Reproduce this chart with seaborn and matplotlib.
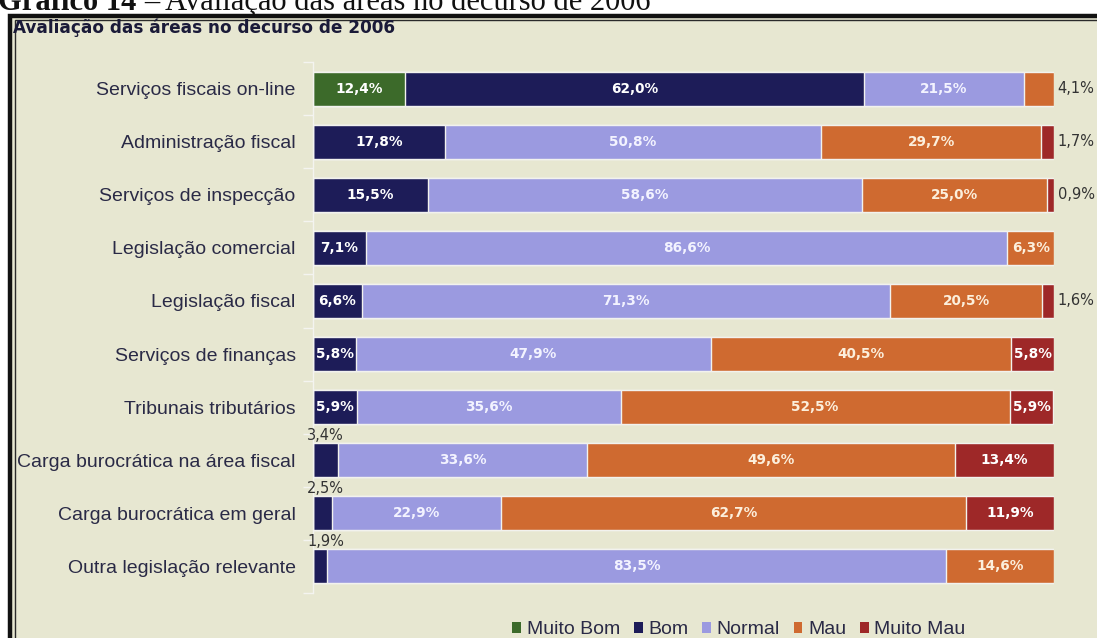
import matplotlib
matplotlib.use("Agg")
import matplotlib.pyplot as plt
from matplotlib.patches import Rectangle, Patch
import numpy as np
import pandas as pd
import seaborn as sns

# ---- data -------------------------------------------------------------
categories = [
    "Serviços fiscais on-line",
    "Administração fiscal",
    "Serviços de inspecção",
    "Legislação comercial",
    "Legislação fiscal",
    "Serviços de finanças",
    "Tribunais tributários",
    "Carga burocrática na área fiscal",
    "Carga burocrática em geral",
    "Outra legislação relevante",
]
series_names = ["Muito Bom", "Bom", "Normal", "Mau", "Muito Mau"]
muito_bom = [12.4, 0, 0, 0, 0, 0, 0, 0, 0, 0]
bom = [62.0, 17.8, 15.5, 7.1, 6.6, 5.8, 5.9, 3.4, 2.5, 1.9]
normal = [21.5, 50.8, 58.6, 86.6, 71.3, 47.9, 35.6, 33.6, 22.9, 83.5]
mau = [4.1, 29.7, 25.0, 6.3, 20.5, 40.5, 52.5, 49.6, 62.7, 14.6]
muito_mau = [0, 1.7, 0.9, 0, 1.6, 5.8, 5.9, 13.4, 11.9, 0]

series = [muito_bom, bom, normal, mau, muito_mau]
colors = ["#3c6a2a", "#1d1c58", "#9b9ae0", "#cf6a30", "#9e2828"]
label_colors = ["#ffffff", "#ffffff", "#f3f3ff", "#fcefdc", "#ffffff"]
bg = "#e7e7d1"

# ---- figure -----------------------------------------------------------
sns.set_style("white")
plt.rcParams["font.family"] = ["Liberation Sans", "DejaVu Sans"]

W, H = 1097, 638
fig = plt.figure(figsize=(W / 100, H / 100), dpi=100, facecolor="white")


def px(x, y):
    """Pixel position (from top-left) to figure fraction."""
    return x / W, 1 - y / H


# framed box (extends past the right and bottom edges)
box_top = 1 - 15.5 / H
fig.patches.append(Rectangle((10 / W, -1), 2, box_top + 1,
                             transform=fig.transFigure, facecolor=bg,
                             edgecolor="none", zorder=-2))
fig.patches.append(Rectangle((10 / W, -1), 2, box_top + 1,
                             transform=fig.transFigure, facecolor="none",
                             edgecolor="#111111", linewidth=3.2, zorder=-1))
fig.patches.append(Rectangle((14.5 / W, -1), 2, 1 - 19.5 / H + 1,
                             transform=fig.transFigure, facecolor="none",
                             edgecolor="#2a2a2a", linewidth=1.0, zorder=-1))

# document caption above the box
fx, fy = px(-2, 10)
t1 = fig.text(fx, fy, "Gráfico 14 ", family="Liberation Serif", fontsize=22,
              fontweight="bold", va="baseline", ha="left", color="#111111")
fig.canvas.draw()
bb = t1.get_window_extent()
fig.text(bb.x1 / W, fy, "– Avaliação das áreas no decurso de 2006",
         family="Liberation Serif", fontsize=22, va="baseline", ha="left",
         color="#111111")

# chart title inside the box
tx, ty = px(13, 28)
fig.text(tx, ty, "Avaliação das áreas no decurso de 2006", family="DejaVu Sans",
         fontsize=12.2, fontweight="bold", color="#1a1a38", va="center", ha="left")

# ---- stacked bars -----------------------------------------------------
left, right, top, bottom = 313, 1054, 62, 593
ax = fig.add_axes([left / W, 1 - bottom / H, (right - left) / W, (bottom - top) / H])
ax.set_facecolor("none")
ax.set_zorder(2)

values = np.array(series, dtype=float)          # (5, 10)
cum = np.cumsum(values, axis=0)                  # running totals
starts = cum - values

# draw from the full total down so each shorter total sits on top
for k in range(len(series_names) - 1, -1, -1):
    df = pd.DataFrame({"categoria": categories, "total": cum[k]})
    sns.barplot(data=df, x="total", y="categoria", order=categories, orient="y",
                color=colors[k], saturation=1, width=0.64, edgecolor="#f2f2ee",
                linewidth=1.0, ax=ax)

ax.set_xlim(0, 100)
ax.set_ylim(len(categories) - 0.5, -0.5)
ax.set_xlabel("")
ax.set_ylabel("")
ax.set_xticks([])
for s in ["top", "right", "bottom"]:
    ax.spines[s].set_visible(False)
ax.spines["left"].set_color("#f4f4f0")
ax.spines["left"].set_linewidth(1.0)
ax.set_yticks(np.arange(len(categories) + 1) - 0.5, minor=True)
ax.tick_params(axis="y", which="minor", length=7, width=1, color="#f4f4f0", left=True)
ax.tick_params(axis="y", which="major", length=0, pad=12.5, labelsize=14,
               labelcolor="#2a2a46")

# value labels
n_ser = len(series_names)
for i in range(len(categories)):
    nonzero = [k for k in range(n_ser) if values[k, i] > 0]
    for k in nonzero:
        v = values[k, i]
        txt = f"{v:.1f}%".replace(".", ",")
        if v >= 5:
            ax.text(starts[k, i] + v / 2, i, txt, ha="center", va="center",
                    family="DejaVu Sans", fontsize=9.8, fontweight="bold",
                    color=label_colors[k])
        elif k == nonzero[0]:
            ax.text(-0.8, i - 0.32, txt, ha="left", va="bottom",
                    family="DejaVu Sans", fontsize=10.5, color="#333333",
                    clip_on=False)
        else:
            ax.text(cum[k, i] + 0.5, i, txt, ha="left", va="center",
                    family="DejaVu Sans", fontsize=10.5, color="#333333",
                    clip_on=False)

# legend
handles = [Patch(facecolor=c, edgecolor="none") for c in colors]
lx, ly = px(739, 630)
fig.legend(handles, series_names, loc="center", bbox_to_anchor=(lx, ly), ncol=5,
           frameon=False, fontsize=14, handlelength=0.45, handleheight=0.45,
           handletextpad=0.3, columnspacing=0.7, labelcolor="#2a2a46")

fig.savefig("out.png", dpi=100, facecolor="white")
